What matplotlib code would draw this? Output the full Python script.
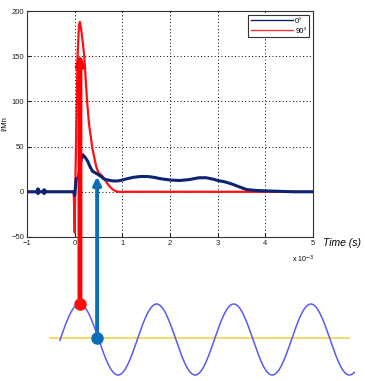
import numpy as np
import matplotlib
matplotlib.use('Agg')
import matplotlib.pyplot as plt
from matplotlib.lines import Line2D

plt.rcParams['font.family'] = ['Liberation Sans', 'DejaVu Sans']

# courbe 0 degres (I/Mn en fonction du temps, x 10^-3 s)
t_0 = [-1.0, -0.79, -0.78, -0.77, -0.76, -0.75, -0.66, -0.65, -0.64, -0.63, -0.62,
       -0.02, 0.0, 0.03, 0.08, 0.12, 0.17, 0.22, 0.27, 0.32, 0.37, 0.43, 0.48,
       0.55, 0.62, 0.7, 0.8, 0.9, 1.0, 1.1, 1.23, 1.35, 1.45, 1.55, 1.66, 1.8,
       2.0, 2.2, 2.4, 2.6, 2.75, 2.9, 3.0, 3.15, 3.3, 3.45, 3.6, 3.8, 4.0,
       4.3, 4.6, 5.0]
i_0 = [0, 0, 3, -2, 3, 0, 0, 2, -2, 2, 0,
       0, -4, 14, 16, 32, 41, 38, 34, 28, 23, 21, 19.5,
       17, 14, 13, 12, 12, 13, 14.5, 16, 16.8, 17, 16.8, 16, 14.5,
       13, 12.5, 13.5, 15.5, 15.6, 14, 12.5, 11, 8.5, 5.5, 2.5, 1.5, 1,
       0.5, 0, 0]

# courbe 90 degres
t_90 = [-1.0, -0.02, 0.0, 0.01, 0.03, 0.06, 0.09, 0.11, 0.14, 0.17, 0.2,
        0.23, 0.26, 0.3, 0.34, 0.37, 0.41, 0.45, 0.5, 0.55, 0.6, 0.65, 0.7,
        0.75, 0.8, 0.85, 0.9, 1.0, 5.0]
i_90 = [0, 0, -45, 0, 60, 150, 185, 188, 178, 165, 150,
        125, 100, 75, 60, 48, 38, 28, 21, 19, 16, 12, 8,
        5, 2.5, 1, 0, 0, 0]

# instants des fleches (x 10^-3 s) et valeurs pointees
t_rouge, i_rouge = 0.11, 154
t_bleu, i_bleu = 0.47, 17

# tension schematique sous la figure
periode = 1.617
t_pic = 0.1
t_onde = np.linspace(-0.31, 5.86, 400)
niveau_jaune = 0.03


def onde(t):
    return np.cos(2 * np.pi * (np.asarray(t) - t_pic) / periode)


fig = plt.figure(figsize=(3.65, 3.81), dpi=100)
ax = fig.add_axes([0.074, 0.378, 0.784, 0.593])
ax2 = fig.add_axes([0.074, 0.0157, 0.784, 0.1864])

ax.plot(t_0, i_0, color='#0c2472', lw=2.2, zorder=3)
ax.plot(t_90, i_90, color='#ff1010', lw=1.6, zorder=2)

ax.set_xlim(-1, 5)
ax.set_ylim(-50, 200)
ax.set_xticks(range(-1, 6))
ax.set_yticks(range(-50, 201, 50))
ax.grid(True, color='black', linestyle=(0, (1, 2.5)), lw=0.7)
ax.tick_params(direction='in', length=3, labelsize=5.5, pad=2, colors='#222222')
for s in ax.spines.values():
    s.set_color('#333333')
    s.set_linewidth(0.8)
ax.set_ylabel('I/Mn', fontsize=5.5, labelpad=2)
ax.text(1.033, -0.028, 'Time (s)', transform=ax.transAxes, fontsize=7.5,
        style='italic', va='center', ha='left')
ax.text(0.925, -0.1, 'x 10$^{-3}$', transform=ax.transAxes, fontsize=5,
        va='center', ha='left')

poignees = [Line2D([], [], color='#0c2472', lw=1), Line2D([], [], color='#ff3030', lw=1)]
leg = ax.legend(poignees, ['0°', '90°'], loc='upper right', fontsize=5.5,
                handlelength=5.5, fancybox=False, framealpha=1,
                borderaxespad=0.5, handletextpad=0.3, borderpad=0.35,
                labelspacing=0.3)
leg.get_frame().set_edgecolor('#333333')
leg.get_frame().set_linewidth(0.8)

# onde et ligne jaune
ax2.set_xlim(-1, 5)
ax2.set_ylim(-1, 1)
ax2.axis('off')
ax2.plot(t_onde, onde(t_onde), color='#5a5af0', lw=1.1, clip_on=False)
ax2.plot([-0.52, 5.75], [niveau_jaune, niveau_jaune], color='#f4d03f',
         lw=1.1, clip_on=False, zorder=1)

# fleches
y_rouge = float(onde(t_rouge))
ax.annotate('', xy=(t_rouge, i_rouge), xytext=(t_rouge, y_rouge),
            textcoords=ax2.transData, annotation_clip=False,
            arrowprops=dict(arrowstyle='-|>,head_length=0.55,head_width=0.2',
                            color='#ff0000', lw=3.5,
                            mutation_scale=10, shrinkA=0, shrinkB=0),
            zorder=5)
ax.annotate('', xy=(t_bleu, i_bleu), xytext=(t_bleu, niveau_jaune),
            textcoords=ax2.transData, annotation_clip=False,
            arrowprops=dict(arrowstyle='-|>,head_length=0.45,head_width=0.22',
                            color='#0a6eb8', lw=2.8,
                            mutation_scale=10, shrinkA=0, shrinkB=0),
            zorder=5)
ax2.plot([t_rouge], [y_rouge], 'o', color='#ff1010', ms=8, clip_on=False, zorder=6)
ax2.plot([t_bleu], [niveau_jaune], 'o', color='#0a6eb8', ms=8, clip_on=False, zorder=6)

fig.savefig('out.png', dpi=100)
